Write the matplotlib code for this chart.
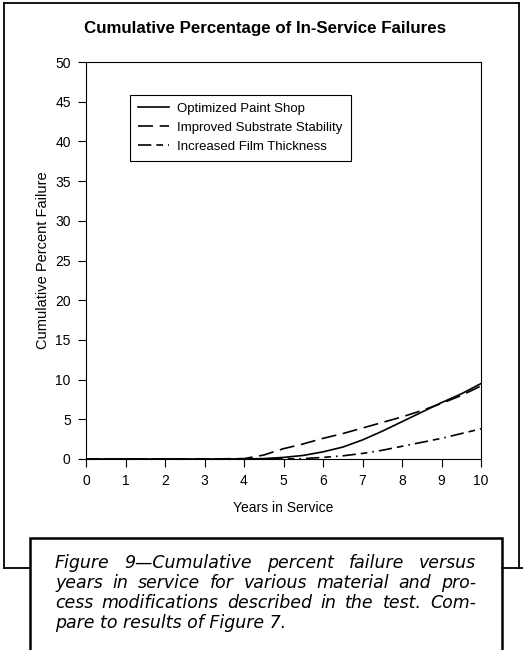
import matplotlib
matplotlib.use("Agg")
import matplotlib.pyplot as plt
from matplotlib.lines import Line2D
from matplotlib.patches import Rectangle

plt.rcParams['font.family'] = ['Liberation Sans', 'DejaVu Sans']

# Cumulative percent failure read at half-year steps
years = [0, 1, 2, 3, 4, 4.5, 5, 5.5, 6, 6.5, 7, 7.5, 8, 8.5, 9, 9.5, 10]
paint_shop = [0, 0, 0, 0, 0, 0.05, 0.2, 0.45, 0.9, 1.5, 2.4, 3.5, 4.7, 5.9, 7.1, 8.2, 9.5]
substrate = [0, 0, 0, 0, 0.05, 0.5, 1.3, 1.9, 2.6, 3.2, 3.9, 4.6, 5.3, 6.1, 7.0, 8.0, 9.2]
film = [0, 0, 0, 0, 0, 0, 0, 0.05, 0.2, 0.4, 0.7, 1.1, 1.6, 2.1, 2.6, 3.2, 3.8]

series_names = ["Optimized Paint Shop", "Improved Substrate Stability", "Increased Film Thickness"]
x_ticks = list(range(0, 11))
y_ticks = list(range(0, 51, 5))

caption_lines = [
    "Figure 9\u2014Cumulative percent failure versus",
    "years in service for various material and pro-",
    "cess modifications described in the test. Com-",
    "pare to results of Figure 7.",
]

fig = plt.figure(figsize=(5.23, 6.5), dpi=100)
W, H = 523, 650

def fx(px):
    return px / W

def fy(py):
    return 1 - py / H

# outer frame with the caption box cutting into its bottom edge
frame_kw = dict(transform=fig.transFigure, color='black', lw=1.3)
fig.add_artist(Line2D([fx(4), fx(4)], [fy(3), fy(568)], **frame_kw))
fig.add_artist(Line2D([fx(4), fx(519)], [fy(3), fy(3)], **frame_kw))
fig.add_artist(Line2D([fx(519), fx(519)], [fy(3), fy(568)], **frame_kw))
fig.add_artist(Line2D([fx(4), fx(30)], [fy(568), fy(568)], **frame_kw))
fig.add_artist(Line2D([fx(502), fx(523)], [fy(568), fy(568)], **frame_kw))
fig.add_artist(Rectangle((fx(30), fy(680)), fx(472), (680 - 538) / H,
                         transform=fig.transFigure, fill=False, ec='black', lw=1.8))

ax = fig.add_axes([fx(86), fy(459), fx(395), fy(62) - fy(459)])
ax.plot(years, paint_shop, color='black', lw=1.2, label=series_names[0])
ax.plot(years, substrate, color='black', lw=1.2, dashes=(9, 4), label=series_names[1])
ax.plot(years, film, color='black', lw=1.2, dashes=(8, 3, 4, 3, 1, 3), label=series_names[2])

ax.set_xlim(0, 10)
ax.set_ylim(0, 50)
ax.set_xticks(x_ticks)
ax.set_yticks(y_ticks)
ax.tick_params(direction='out', length=6, width=0.8, labelsize=10, pad=5)
for side in ['left', 'right', 'top', 'bottom']:
    ax.spines[side].set_linewidth(0.8)

ax.set_xlabel("Years in Service", fontsize=10, labelpad=9)
ax.set_ylabel("Cumulative Percent Failure", fontsize=10.5, labelpad=4)

leg = ax.legend(loc='upper left', bbox_to_anchor=(0.111, 0.917), fontsize=9.5,
                frameon=True, fancybox=False, edgecolor='black', framealpha=1,
                handlelength=2.4, borderpad=0.6, labelspacing=0.5, handletextpad=0.6,
                borderaxespad=0)
leg.get_frame().set_linewidth(0.8)

fig.text(fx(265), fy(29), "Cumulative Percentage of In-Service Failures",
         ha='center', va='center', fontsize=12.2, fontweight='bold')

# justified caption: spread the words of each line across the box width
renderer = fig.canvas.get_renderer()
left_px, right_px = 55, 476
line_y = [563, 583, 603, 623]
cap_kw = dict(fontsize=12.5, style='italic', va='center', ha='left', family=['DejaVu Sans'])
for i, line in enumerate(caption_lines):
    words = line.split(" ")
    if i == len(caption_lines) - 1:
        fig.text(fx(left_px), fy(line_y[i]), line, **cap_kw)
        continue
    widths = []
    for w in words:
        t = fig.text(0, 0, w, **cap_kw)
        widths.append(t.get_window_extent(renderer).width)
        t.remove()
    gap = (right_px - left_px - sum(widths)) / (len(words) - 1)
    xpos = left_px
    for w, wd in zip(words, widths):
        fig.text(fx(xpos), fy(line_y[i]), w, **cap_kw)
        xpos += wd + gap

fig.savefig("out.png", dpi=100)
